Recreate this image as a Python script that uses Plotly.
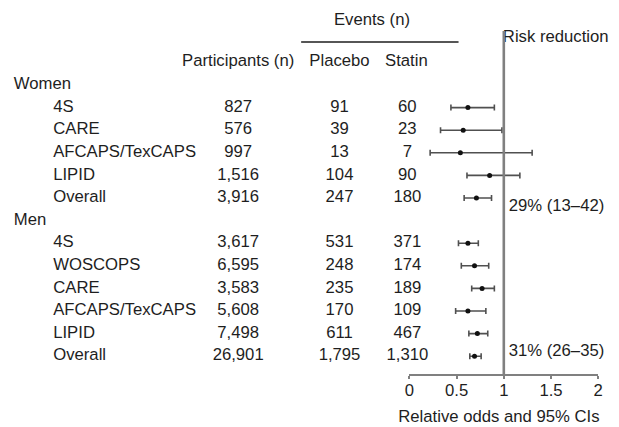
import plotly.graph_objects as go

# ---- data ----
groups = ["Women", "Men"]
women_trials = ["4S", "CARE", "AFCAPS/TexCAPS", "LIPID", "Overall"]
women_participants = ["827", "576", "997", "1,516", "3,916"]
women_placebo = ["91", "39", "13", "104", "247"]
women_statin = ["60", "23", "7", "90", "180"]
women_or = [0.62, 0.57, 0.54, 0.85, 0.71]
women_lo = [0.44, 0.33, 0.22, 0.61, 0.58]
women_hi = [0.90, 0.98, 1.30, 1.17, 0.87]

men_trials = ["4S", "WOSCOPS", "CARE", "AFCAPS/TexCAPS", "LIPID", "Overall"]
men_participants = ["3,617", "6,595", "3,583", "5,608", "7,498", "26,901"]
men_placebo = ["531", "248", "235", "170", "611", "1,795"]
men_statin = ["371", "174", "189", "109", "467", "1,310"]
men_or = [0.62, 0.69, 0.77, 0.62, 0.72, 0.69]
men_lo = [0.52, 0.55, 0.66, 0.49, 0.63, 0.64]
men_hi = [0.73, 0.84, 0.90, 0.81, 0.83, 0.76]

risk_reduction = ["29% (13–42)", "31% (26–35)"]
x_ticks = [0, 0.5, 1, 1.5, 2]
x_ticktext = ["0", "0.5", "1", "1.5", "2"]

# ---- layout helpers ----
W, H = 619, 427
ROW0, STEP = 85.0, 22.6           # pixel y of row 0, row spacing
def row(py):                      # pixel y -> row coordinate
    return (py - ROW0) / STEP

FONT = "Liberation Sans, Arial, sans-serif"
TXT = "#1e1e1e"
FS = 16.7

women_rows = list(range(1, 1 + len(women_trials)))
men_rows = list(range(len(women_trials) + 2, len(women_trials) + 2 + len(men_trials)))
group_rows = [0, len(women_trials) + 1]

trials = women_trials + men_trials
rows = women_rows + men_rows
participants = women_participants + men_participants
placebo = women_placebo + men_placebo
statin = women_statin + men_statin
ors = women_or + men_or
lo = women_lo + men_lo
hi = women_hi + men_hi

fig = go.Figure()

def text_col(xpix, ys, texts, pos):
    fig.add_trace(go.Scatter(
        x=[xpix] * len(ys), y=ys, text=texts, mode="text",
        textposition=pos, textfont=dict(family=FONT, size=FS, color=TXT),
        cliponaxis=False,
        hoverinfo="skip", showlegend=False, xaxis="x", yaxis="y"))

text_col(9, group_rows, groups, "middle right")
text_col(49, rows, trials, "middle right")
text_col(237, rows, participants, "middle center")
text_col(340, rows, placebo, "middle center")
text_col(409, rows, statin, "middle center")

# headers
text_col(237, [row(62)], ["Participants (n)"], "middle center")
text_col(340, [row(62)], ["Placebo"], "middle center")
text_col(408, [row(62)], ["Statin"], "middle center")
text_col(373, [row(21)], ["Events (n)"], "middle center")
text_col(506, [row(38)], ["Risk reduction"], "middle right")
text_col(512, [row(207), row(352)], risk_reduction, "middle right")
text_col(502, [row(418)], ["Relative odds and 95% CIs"], "middle center")

# forest plot
fig.add_trace(go.Scatter(
    x=ors, y=rows, mode="markers",
    marker=dict(symbol="circle", size=5, color="#111111"),
    error_x=dict(type="data", symmetric=False,
                 array=[h - o for h, o in zip(hi, ors)],
                 arrayminus=[o - l for o, l in zip(ors, lo)],
                 color="#505050", thickness=1.6, width=3),
    cliponaxis=False,
    showlegend=False, hoverinfo="skip", xaxis="x2", yaxis="y"))

fig.add_shape(type="line", xref="x2", yref="y", x0=1, x1=1,
              y0=row(31), y1=row(375), line=dict(color="#808080", width=2.6))
fig.add_shape(type="line", xref="x", yref="y", x0=301, x1=461,
              y0=row(42), y1=row(42), line=dict(color="#1e1e1e", width=1.5))

fig.update_layout(
    width=W, height=H, margin=dict(l=0, r=0, t=0, b=0),
    paper_bgcolor="white", plot_bgcolor="rgba(0,0,0,0)",
    font=dict(family=FONT, size=FS, color=TXT),
    hovermode=False,
    xaxis=dict(domain=[0, 1], range=[0, W], visible=False, fixedrange=True),
    xaxis2=dict(domain=[411 / W, 603 / W], range=[0, 2],
                anchor="free", position=(H - 375) / H,
                showgrid=False, zeroline=False, fixedrange=True,
                showline=True, linecolor="#808080", linewidth=2,
                ticks="outside", ticklen=3, tickcolor="#808080", tickwidth=2,
                ticklabelstandoff=-3,
                tickvals=x_ticks, ticktext=x_ticktext,
                tickfont=dict(family=FONT, size=FS, color=TXT)),
    yaxis=dict(domain=[0, 1], range=[row(H), row(0)], visible=False,
               fixedrange=True),
)

fig.write_html("out.html",
               config={"displayModeBar": False, "staticPlot": True},
               post_script="document.body.style.margin='0';"
                           "document.body.style.overflow='hidden';")
